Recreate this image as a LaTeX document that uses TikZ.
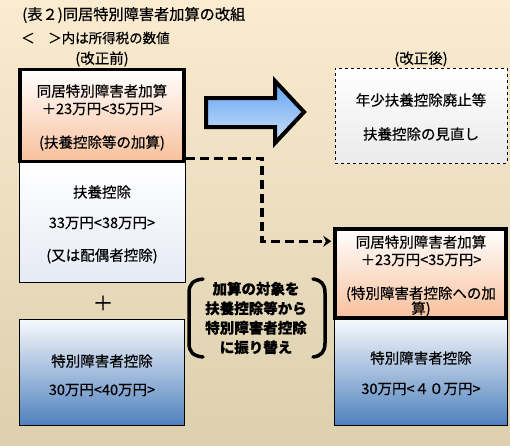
\documentclass[tikz,border=0pt]{standalone}
\usepackage{fontspec}
\newfontfamily\jp[FakeBold=0.5]{Noto Sans CJK JP}
\usetikzlibrary{arrows.meta,positioning,calc}
\definecolor{bgtop}{RGB}{251,235,208}
\definecolor{bgbot}{RGB}{220,208,174}
\definecolor{peach}{RGB}{248,192,156}
\definecolor{paleblue}{RGB}{230,234,244}
\definecolor{deepblue}{RGB}{79,129,189}
\definecolor{arrowtop}{RGB}{96,164,244}
\definecolor{arrowbot}{RGB}{206,224,246}
\definecolor{palegray}{RGB}{234,234,234}

\begin{document}
\begin{tikzpicture}[x=1pt, y=-1pt,
    addbox/.style={rectangle, draw=black, line width=3.5pt, inner sep=0pt,
      top color=white, bottom color=peach},
    depbox/.style={rectangle, draw=black, line width=1pt, inner sep=0pt,
      top color=white, bottom color=paleblue},
    specbox/.style={rectangle, draw=black, line width=1pt, inner sep=0pt,
      top color=white!96!deepblue, bottom color=deepblue},
    newbox/.style={rectangle, draw=black, line width=0.8pt, dashed, inner sep=0pt,
      top color=white, bottom color=palegray},
    txt/.style={font=\jp\fontsize{14.5}{17}\selectfont, inner sep=0pt},
    ttl/.style={font=\jp\fontsize{15.2}{17}\selectfont, inner sep=0pt, anchor=west},
    midtxt/.style={font=\jp\bfseries\fontsize{14.5}{19.5}\selectfont, align=center, inner sep=0pt},
    bigarrow/.style={draw=black, line width=4pt, line join=miter,
      top color=arrowtop, bottom color=arrowbot},
    dashcon/.style={draw=black, line width=3.5pt, dash pattern=on 9pt off 5pt,
      -{Stealth[length=8pt, width=11pt]}},
    paren/.style={draw=black, line width=3.5pt, line cap=round}
  ]
    % Background
    \useasboundingbox (0,0) rectangle (510,445);
    \shade[top color=bgtop, bottom color=bgbot] (0,0) rectangle (510,445);

    % Headings
    \node[ttl] (title) at (22,15) {(表２)同居特別障害者加算の改組};
    \node[ttl, font=\jp\fontsize{13.5}{16}\selectfont] (note) at (21,38) {＜　＞内は所得税の数値};
    \node[txt] (before) at (102,59) {(改正前)};
    \node[txt] (after) at (421,59) {(改正後)};

    % Before reform
    \node[depbox, minimum width=166pt, minimum height=120pt] (preDep) at (102,222) {};
    \node[addbox, minimum width=164pt, minimum height=92pt] (preAdd) at (102,115.5) {};
    \node[specbox, minimum width=165pt, minimum height=106pt] (preSpec) at (102,372) {};

    \node[txt] (preAddA) at (102,91)  {同居特別障害者加算};
    \node[txt] (preAddB) at (102,109) {＋23万円<35万円>};
    \node[txt] (preAddC) at (102,143) {(扶養控除等の加算)};

    \node[txt] (preDepA) at (102,192) {扶養控除};
    \node[txt] (preDepB) at (102,223) {33万円<38万円>};
    \node[txt] (preDepC) at (102,256) {(又は配偶者控除)};

    \node[txt, font=\jp\fontsize{20}{20}\selectfont] (plus) at (103,303) {＋};

    \node[txt] (preSpecA) at (102,361) {特別障害者控除};
    \node[txt] (preSpecB) at (102,390) {30万円<40万円>};

    % Arrow
    \draw[bigarrow] (206,98) -- (275,98) -- (275,81) -- (304,112)
      -- (275,143) -- (275,127) -- (206,127) -- cycle;

    % After reform
    \node[newbox, minimum width=172pt, minimum height=95pt] (postDep) at (421,115.5) {};
    \node[txt] (postDepA) at (421,100) {年少扶養控除廃止等};
    \node[txt] (postDepB) at (421,134) {扶養控除の見直し};

    \node[specbox, minimum width=173pt, minimum height=106pt] (postSpec) at (420.5,372) {};
    \node[addbox, minimum width=171pt, minimum height=89pt] (postAdd) at (420.5,273.5) {};

    \node[txt] (postAddA) at (421,242) {同居特別障害者加算};
    \node[txt] (postAddB) at (421,260) {＋23万円<35万円>};
    \node[txt] (postAddC) at (421,294) {(特別障害者控除への加};
    \node[txt] (postAddD) at (421,309) {算)};

    \node[txt] (postSpecA) at (421,358) {特別障害者控除};
    \node[txt] (postSpecB) at (421,389) {30万円<４０万円>};

    % Moved addition
    \draw[dashcon] ($(preAdd.south east)+(0,-5)$) -- ++(76,0)
      |- ($(postAdd.north west)+(-2,14)$);

    \node[midtxt] (shift) at (256,318) {加算の対象を\\扶養控除等から\\特別障害者控除\\に振り替え};
    \draw[paren] (203,279) .. controls (193,280) and (189,284) .. (189,293)
      -- (189,343) .. controls (189,352) and (193,356) .. (203,357);
    \draw[paren] (313,279) .. controls (321,280) and (325,284) .. (325,293)
      -- (325,343) .. controls (325,352) and (321,356) .. (313,357);
  \end{tikzpicture}
\end{document}
